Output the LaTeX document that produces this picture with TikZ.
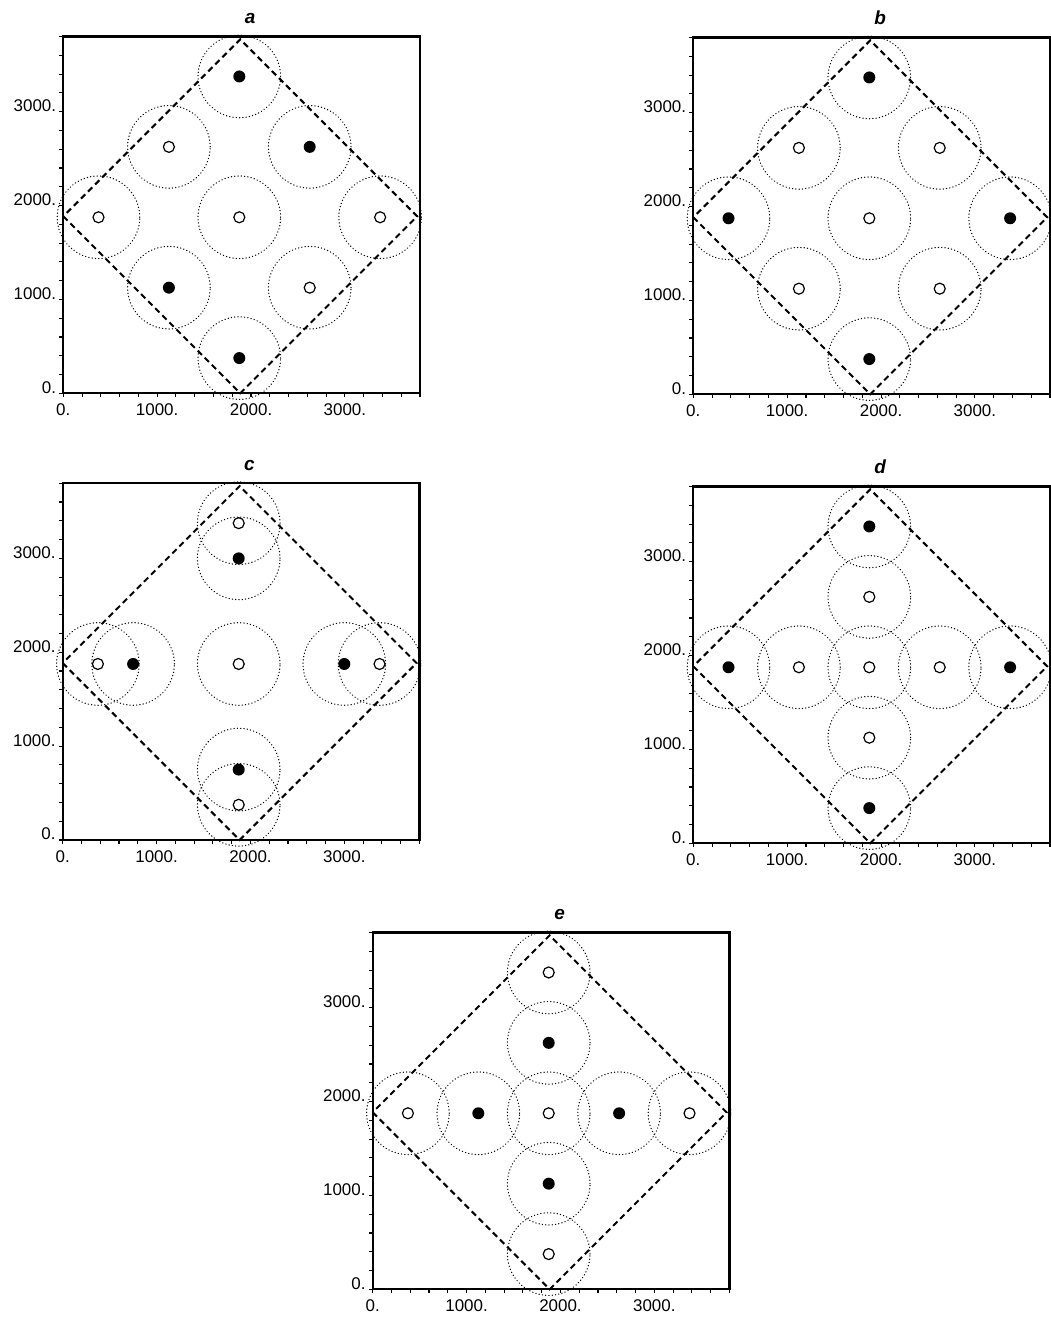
\documentclass[tikz,border=0pt]{standalone}
\usepackage{fontspec}
\setmainfont{Liberation Sans}
\usepackage{tikz}

\tikzset{
  boxframe/.style={line width=2.2bp},
  axtick/.style={line width=1.1bp},
  cellring/.style={line width=1.2bp, dash pattern=on 0.3bp off 3bp, line cap=round},
  cellbound/.style={line width=2bp, dash pattern=on 6bp off 4bp},
  atomfull/.style={circle, fill=black, inner sep=0pt, minimum size=12bp},
  atomopen/.style={circle, draw=black, fill=white, line width=1.2bp, inner sep=0pt, minimum size=11bp},
  ticklab/.style={font=\fontsize{17}{17}\selectfont, inner sep=0pt},
  panlab/.style={font=\fontsize{19}{19}\selectfont\bfseries\itshape, inner sep=0pt, anchor=base},
}

\newcommand{\drawpanel}[3]{%
\begin{scope}[shift={(#2)}, x=0.09387bp, y=0.09387bp]
  \draw[boxframe] (0,0) rectangle (3800,3800);
  \foreach \t in {0,200,...,3800} {
    \draw[axtick] (\t,0) -- ++(0,-4bp);
    \draw[axtick] (0,\t) -- ++(-4bp,0);
  }
  \foreach \t in {0,1000,2000,3000} {
    \node[ticklab, anchor=north] (#1-x\t) at ([yshift=-10bp]\t,0) {\t.};
    \node[ticklab, anchor=base east] (#1-y\t) at ([xshift=-7bp]0,\t) {\t.};
  }
  \draw[cellbound] (0,1885) -- (1885,0) -- (3770,1885) -- (1885,3770) -- cycle;
  \foreach \x/\y/\kind in {#3} {
    \draw[cellring] (\x,\y) circle[radius=440];
  }
  \foreach \x/\y/\kind [count=\n] in {#3} {
    \node[\kind] (#1-p\n) at (\x,\y) {};
  }
  \node[panlab] (#1-title) at ([yshift=12.7bp]1990,3800) {#1};
\end{scope}}

\begin{document}
\begin{tikzpicture}[x=1bp,y=1bp]
\useasboundingbox (0,0) rectangle (1050,1327);

\drawpanel{a}{63.3,933.7}{1875/3375/atomfull, 1125/2625/atomopen, 2625/2625/atomfull,
  375/1875/atomopen, 1875/1875/atomopen, 3375/1875/atomopen,
  1125/1125/atomfull, 2625/1125/atomopen, 1875/375/atomfull}

\drawpanel{b}{693.3,932.7}{1875/3375/atomfull, 1125/2625/atomopen, 2625/2625/atomopen,
  375/1875/atomfull, 1875/1875/atomopen, 3375/1875/atomfull,
  1125/1125/atomopen, 2625/1125/atomopen, 1875/375/atomfull}

\drawpanel{c}{62.7,487}{1875/3375/atomopen, 1875/3000/atomfull,
  375/1875/atomopen, 750/1875/atomfull, 1875/1875/atomopen, 3000/1875/atomfull, 3375/1875/atomopen,
  1875/750/atomfull, 1875/375/atomopen}

\drawpanel{d}{693.3,483.7}{1875/3375/atomfull, 1875/2625/atomopen,
  375/1875/atomfull, 1125/1875/atomopen, 1875/1875/atomopen, 2625/1875/atomopen, 3375/1875/atomfull,
  1875/1125/atomopen, 1875/375/atomfull}

\drawpanel{e}{372.7,37.7}{1875/3375/atomopen, 1875/2625/atomfull,
  375/1875/atomopen, 1125/1875/atomfull, 1875/1875/atomopen, 2625/1875/atomfull, 3375/1875/atomopen,
  1875/1125/atomfull, 1875/375/atomopen}

\end{tikzpicture}
\end{document}
